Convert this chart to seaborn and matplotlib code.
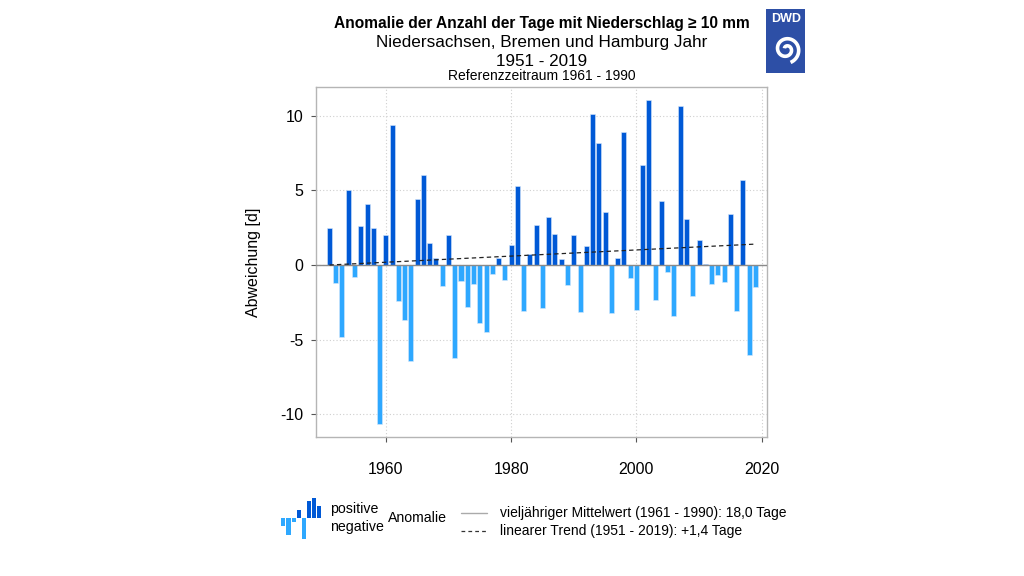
import numpy as np
import pandas as pd
import matplotlib
matplotlib.use('Agg')
import matplotlib.pyplot as plt
import matplotlib.patches as mpatches
import seaborn as sns

years = list(range(1951, 2020))
anomalie = [2.5, -1.2, -4.8, 5.0, -0.8, 2.6, 4.1, 2.5, -10.65, 2.0,
            9.4, -2.4, -3.7, -6.4, 4.45, 6.0, 1.5, 0.45, -1.4, 2.0,
            -6.2, -1.05, -2.8, -1.3, -3.9, -4.5, -0.6, 0.5, -1.0, 1.35,
            5.3, -3.1, 0.75, 2.7, -2.9, 3.2, 2.05, 0.4, -1.35, 2.0,
            -3.15, 1.3, 10.1, 8.2, 3.55, -3.2, 0.45, 8.9, -0.9, -3.0,
            6.7, 11.05, -2.35, 4.3, -0.45, -3.4, 10.65, 3.05, -2.1, 1.7,
            0.1, -1.3, -0.7, -1.15, 3.4, -3.1, 5.7, -6.05, -1.5]
trend_years = [1951, 2019]
trend_values = [0.0, 1.4]
legend_icon_heights = [-2.5, -5.2, -1.2, 2.5, -6.2, 5.0, 6.1, 3.6]

col_pos = '#0059d6'
col_neg = '#2ea8ff'

df = pd.DataFrame({'Jahr': years, 'Anomalie': anomalie})
df['Vorzeichen'] = np.where(df['Anomalie'] >= 0, 'positiv', 'negativ')

sns.set_style('white')
plt.rcParams['font.family'] = ['Liberation Sans', 'DejaVu Sans']
plt.rcParams['text.color'] = 'black'
plt.rcParams['axes.labelcolor'] = 'black'
plt.rcParams['xtick.color'] = 'black'
plt.rcParams['ytick.color'] = 'black'

fig = plt.figure(figsize=(10.24, 5.76), dpi=100)
ax = fig.add_axes([0.3089, 0.2418, 0.4404, 0.6066])

sns.barplot(data=df, x='Jahr', y='Anomalie', hue='Vorzeichen',
            palette={'positiv': col_pos, 'negativ': col_neg}, saturation=1,
            native_scale=True, dodge=False, width=0.8, errorbar=None,
            edgecolor='#d6e8fb', linewidth=0.4, legend=False, ax=ax, zorder=3)

ax.axhline(0, color='#8a8a8a', lw=1.0, zorder=4)
sns.lineplot(x=trend_years, y=trend_values, color='#222222', lw=0.9,
             linestyle=(0, (3.5, 2.5)), ax=ax, zorder=5)

ax.set_xlim(1948.9, 2020.9)
ax.set_ylim(-11.5, 11.9)
ax.set_xticks([1960, 1980, 2000, 2020])
ax.set_yticks([-10, -5, 0, 5, 10])
ax.set_yticklabels(['-10', '-5', '0', '5', '10'])
ax.grid(True, color='#cfcfcf', linestyle=(0, (1, 2)), lw=0.8, zorder=0)
ax.set_axisbelow(True)
for s in ax.spines.values():
    s.set_color('#b5b5b5')
    s.set_linewidth(1.0)
ax.tick_params(axis='both', which='major', labelsize=11.5, color='#555555',
               labelcolor='black', direction='out', length=3.5, width=0.8,
               left=True, bottom=True)
ax.tick_params(axis='x', pad=15)
ax.tick_params(axis='y', pad=6)
ax.set_xlabel('')
ax.set_ylabel('Abweichung [d]', fontsize=11.5, labelpad=14)

# titles
fig.text(0.5293, 0.9585, 'Anomalie der Anzahl der Tage mit Niederschlag \u2265 10 mm',
         ha='center', va='center', fontsize=11.2, fontweight='bold')
fig.text(0.5293, 0.9255, 'Niedersachsen, Bremen und Hamburg Jahr',
         ha='center', va='center', fontsize=12.3)
fig.text(0.5293, 0.8925, '1951 - 2019', ha='center', va='center', fontsize=12.3)
fig.text(0.5293, 0.8685, 'Referenzzeitraum 1961 - 1990', ha='center', va='center', fontsize=10)

# DWD logo (pixel units inside its own axes)
lax = fig.add_axes([766 / 1024, 1 - 72.7 / 576, 39.3 / 1024, 64 / 576])
lax.set_xlim(0, 39.3)
lax.set_ylim(0, 64)
lax.axis('off')
lax.add_patch(mpatches.Rectangle((0, 0), 39.3, 64, color='#2d4fa6'))
lax.text(19.8, 54.0, 'DWD', color='white', fontsize=9, fontweight='bold',
         ha='center', va='center')
t = np.linspace(0.5, 3.4 * np.pi, 300)
r = 1.5 + 1.15 * t
lax.plot(20.3 - r * np.cos(t), 23.4 + r * np.sin(t), color='white', lw=2.6,
         solid_capstyle='butt')

# legend icon
iax = fig.add_axes([280.7 / 1024, 1 - 538.7 / 576, 41.3 / 1024, 41 / 576])
icon = pd.DataFrame({'i': range(len(legend_icon_heights)), 'h': legend_icon_heights})
icon['s'] = np.where(icon['h'] >= 0, 'p', 'n')
sns.barplot(data=icon, x='i', y='h', hue='s', palette={'p': col_pos, 'n': col_neg},
            saturation=1, dodge=False, width=0.8, legend=False, ax=iax, errorbar=None,
            edgecolor='none')
iax.set_xlim(-0.5, 7.5)
iax.set_ylim(-6.2, 6.1)
iax.axis('off')

fig.text(330 / 1024, 1 - 509 / 576, 'positive', fontsize=10.2, va='center', ha='left')
fig.text(330 / 1024, 1 - 527 / 576, 'negative', fontsize=10.2, va='center', ha='left')
fig.text(388 / 1024, 1 - 518 / 576, 'Anomalie', fontsize=10.2, va='center', ha='left')
fig.add_artist(plt.Line2D([461 / 1024, 487 / 1024], [1 - 513 / 576] * 2,
                          color='#aaaaaa', lw=1.0))
fig.add_artist(plt.Line2D([461 / 1024, 487 / 1024], [1 - 531 / 576] * 2,
                          color='#333333', lw=0.9, linestyle=(0, (3, 2.5))))
fig.text(500 / 1024, 1 - 513 / 576, 'vielj\u00e4hriger Mittelwert (1961 - 1990): 18,0 Tage',
         fontsize=10.0, va='center', ha='left')
fig.text(500 / 1024, 1 - 531 / 576, 'linearer Trend (1951 - 2019): +1,4 Tage',
         fontsize=10.0, va='center', ha='left')

fig.savefig('out.png', dpi=100)
